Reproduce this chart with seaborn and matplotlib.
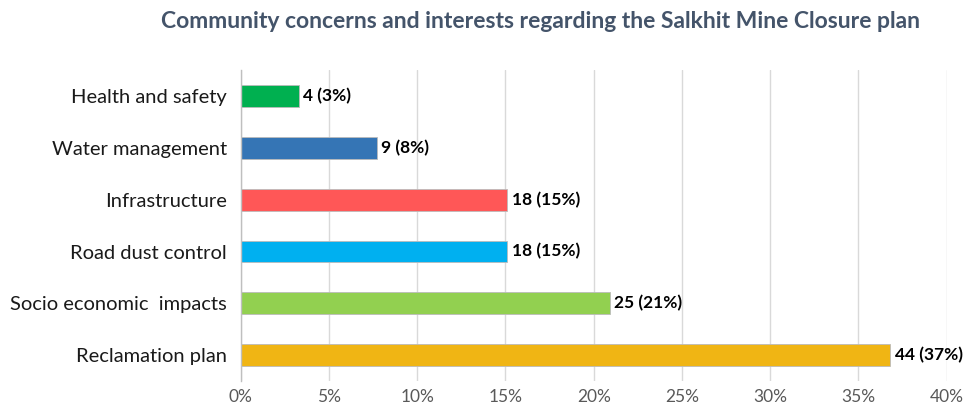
import matplotlib
matplotlib.use("Agg")
import matplotlib.pyplot as plt
import seaborn as sns
import pandas as pd
from matplotlib.ticker import FuncFormatter

categories = ["Health and safety", "Water management", "Infrastructure",
              "Road dust control", "Socio economic  impacts", "Reclamation plan"]
counts = [4, 9, 18, 18, 25, 44]
percents = [3.3, 7.7, 15.1, 15.1, 20.9, 36.8]
pct_labels = ["3%", "8%", "15%", "15%", "21%", "37%"]
colors = ["#00B050", "#3575B5", "#FF5757", "#00B0F0", "#92D050", "#F0B514"]
xticks = [0, 5, 10, 15, 20, 25, 30, 35, 40]

df = pd.DataFrame({"category": categories, "percent": percents})

sns.set_style("white")
plt.rcParams["font.family"] = ["Lato", "DejaVu Sans"]

fig = plt.figure(figsize=(9.63, 4.05), dpi=100)
ax = fig.add_axes([0.250, 0.059, 0.733, 0.768])

sns.barplot(data=df, y="category", x="percent", hue="category",
            palette=colors, order=categories, hue_order=categories,
            orient="h", width=0.42, legend=False, ax=ax, saturation=1,
            edgecolor="#BBBBBB", linewidth=0.6)

for i, (c, p, lab) in enumerate(zip(counts, percents, pct_labels)):
    ax.text(p + 0.25, i, f"{c} ({lab})", va="center", ha="left",
            fontsize=12.5, fontweight="bold", color="#000000")

ax.set_xlim(0, 40)
ax.set_ylim(5.5, -0.5)
ax.set_xticks(xticks)
ax.xaxis.set_major_formatter(FuncFormatter(lambda v, _: f"{int(v)}%"))
ax.grid(axis="x", color="#D9D9D9", linewidth=1)
ax.set_axisbelow(True)
for s in ["top", "right", "bottom"]:
    ax.spines[s].set_visible(False)
ax.spines["left"].set_color("#BFBFBF")
ax.spines["left"].set_linewidth(1)
ax.tick_params(axis="x", length=0, labelsize=12.5, labelcolor="#595959", pad=6)
ax.tick_params(axis="y", length=0, labelsize=14.5, labelcolor="#1A1A1A", pad=10)
ax.set_xlabel("")
ax.set_ylabel("")

fig.text(0.561, 0.946, "Community concerns and interests regarding the Salkhit Mine Closure plan",
         ha="center", va="center", fontsize=16.5, fontweight="bold", color="#44546A")

fig.savefig("out.png", dpi=100)
